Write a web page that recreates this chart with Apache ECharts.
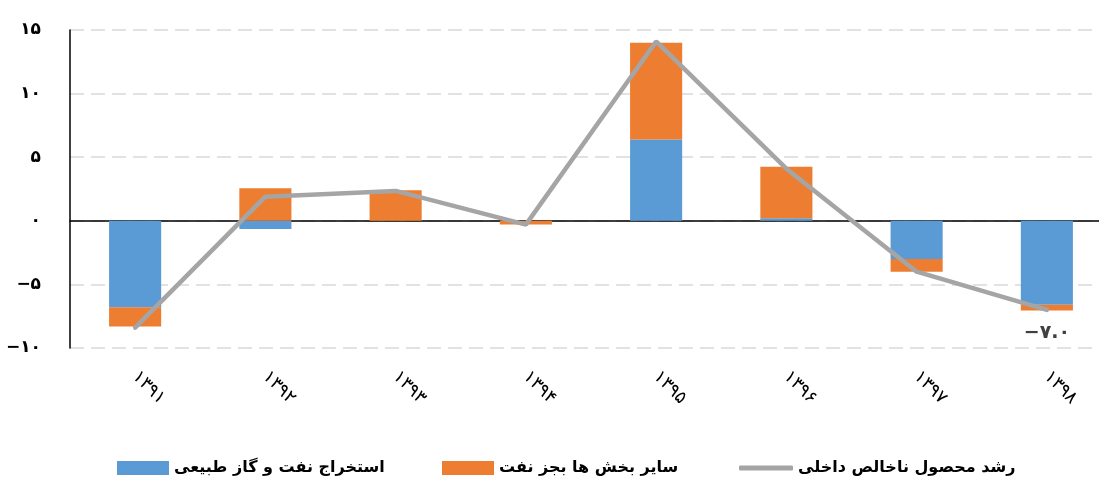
<!DOCTYPE html>
<html>
<head>
<meta charset="utf-8">
<title>chart</title>
<script src="https://cdn.jsdelivr.net/npm/echarts@6/dist/echarts.min.js"></script>
<style>
    html, body { margin: 0; padding: 0; background: #fff; }
    #echarts { width: 1099px; height: 479px; }
</style>
</head>
<body>
<div id="echarts"></div>
<script>
    // سال ها
    var years = ['1391', '1392', '1393', '1394', '1395', '1396', '1397', '1398'];
    // استخراج نفت و گاز طبیعی
    var oilGas = [-6.8, -0.65, 0, 0, 6.4, 0.2, -3.0, -6.6];
    // سایر بخش ها بجز نفت
    var nonOil = [-1.5, 2.55, 2.4, -0.3, 7.6, 4.05, -1.0, -0.45];
    // رشد محصول ناخالص داخلی
    var gdp = [-8.4, 1.9, 2.35, -0.3, 14.1, 4.1, -4.0, -7.0];
    var yTicks = [-10, -5, 0, 5, 10, 15];

    var names = ['استخراج نفت و گاز طبیعی', 'سایر بخش ها بجز نفت', 'رشد محصول ناخالص داخلی'];

    //اعداد فارسی
    function toFa(v){
        var d = '۰۱۲۳۴۵۶۷۸۹';
        return String(v).replace(/[0-9]/g, function(c){ return d[+c]; }).replace('-', '−');
    }

    var font = 'DejaVu Sans';
    var last = gdp.length - 1;
    var myChart = echarts.init(document.getElementById('echarts'));

    //هر راهنما جدا
    function legendAt(left, name, icon, w, h){
        return {
            left: left,
            top: 455,
            itemWidth: w,
            itemHeight: h,
            textStyle: {
                fontFamily: font,
                fontWeight: 'bold',
                fontSize: 16,
                color: '#000'
            },
            data: [{ name: name, icon: icon }]
        };
    }

    var option = {
        animation: false,
        grid: {
            left: 70,
            width: 1042,
            top: 30,
            bottom: 131,
            outerBoundsMode: 'none'
        },
        legend: [
            legendAt(112, names[0], 'rect', 52, 14),
            legendAt(437, names[1], 'rect', 52, 14),
            legendAt(734, names[2], 'roundRect', 54, 5)
        ],
        xAxis: {
            type: 'category',
            data: years,
            axisLine: {
                onZero: true,
                lineStyle: { color: '#000', width: 1.5 }
            },
            axisTick: { show: false },
            axisLabel: {
                rotate: -45,
                margin: 26,
                interval: 0,
                fontFamily: font,
                fontSize: 18,
                color: '#000',
                formatter: function(v){ return toFa(v); }
            }
        },
        yAxis: {
            type: 'value',
            min: yTicks[0],
            max: yTicks[yTicks.length - 1],
            interval: 5,
            axisLine: {
                show: true,
                lineStyle: { color: '#000', width: 1.5 }
            },
            axisTick: { show: false },
            axisLabel: {
                margin: 29,
                fontFamily: font,
                fontWeight: 'bold',
                fontSize: 17,
                color: '#000',
                formatter: function(v){ return toFa(v); }
            },
            splitLine: {
                lineStyle: {
                    color: '#d9d9d9',
                    width: 1.5,
                    type: [14, 7]
                }
            }
        },
        series: [
            {
                name: names[0],
                type: 'bar',
                stack: 'total',
                barWidth: '40%',
                itemStyle: { color: '#5b9bd5' },
                data: oilGas
            },
            {
                name: names[1],
                type: 'bar',
                stack: 'total',
                itemStyle: { color: '#ed7d31' },
                data: nonOil
            },
            {
                name: names[2],
                type: 'line',
                symbol: 'none',
                z: 5,
                lineStyle: { color: '#a5a5a5', width: 4.5, cap: 'round' },
                itemStyle: { color: '#a5a5a5' },
                data: gdp,
                markPoint: {
                    symbol: 'circle',
                    symbolSize: 0,
                    data: [{ coord: [years[last], gdp[last]], value: gdp[last] }],
                    label: {
                        show: true,
                        position: 'bottom',
                        distance: 14,
                        fontFamily: font,
                        fontWeight: 'bold',
                        fontSize: 19,
                        color: '#404040',
                        formatter: function(p){ return toFa(p.value.toFixed(1)); }
                    }
                }
            }
        ]
    };

    myChart.setOption(option);
</script>
</body>
</html>
